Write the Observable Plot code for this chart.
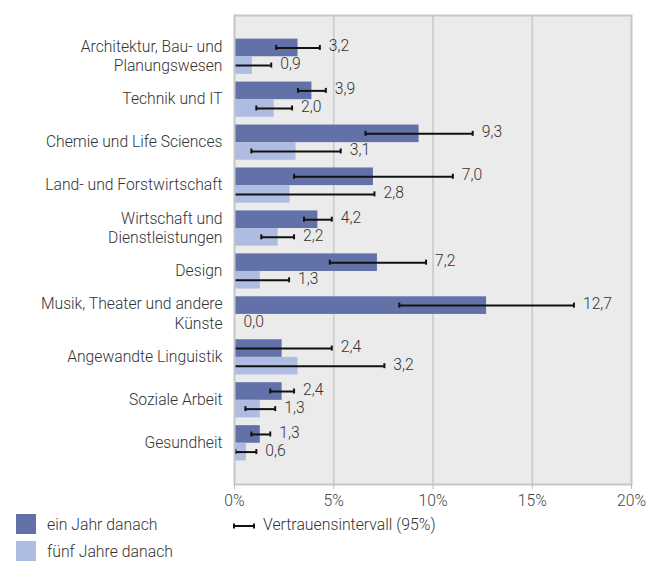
<!DOCTYPE html>
<html>
<head>
<meta charset="utf-8">
<script src="https://cdn.jsdelivr.net/npm/d3@7"></script>
<script src="https://cdn.jsdelivr.net/npm/@observablehq/plot@0.6"></script>
<style>
  body { margin: 0; background: #fff; font-family: Roboto, "Noto Sans", sans-serif; font-weight: 300; }
  #wrap { width: 660px; position: relative; }
  .legend { position: relative; height: 51px; font-size: 15.8px; color: #333; }
  .item { position: absolute; display: flex; align-items: center; height: 20px; }
  .sw { width: 20px; height: 20px; margin-right: 11px; }
</style>
</head>
<body>
<div id="wrap"></div>
<script>
const categories = ["Architektur, Bau- und Planungswesen", "Technik und IT", "Chemie und Life Sciences", "Land- und Forstwirtschaft", "Wirtschaft und Dienstleistungen", "Design", "Musik, Theater und andere Künste", "Angewandte Linguistik", "Soziale Arbeit", "Gesundheit"];
const tickLabels = ["Architektur, Bau- und\nPlanungswesen", "Technik und IT", "Chemie und Life Sciences", "Land- und Forstwirtschaft", "Wirtschaft und\nDienstleistungen", "Design", "Musik, Theater und andere\nKünste", "Angewandte Linguistik", "Soziale Arbeit", "Gesundheit"];
const seriesNames = ["ein Jahr danach", "fünf Jahre danach"];
const einJahr   = [3.2, 3.9, 9.3, 7.0, 4.2, 7.2, 12.7, 2.4, 2.4, 1.3];
const einJahrLo = [2.1, 3.2, 6.6, 3.0, 3.5, 4.8, 8.3, 0, 1.8, 0.85];
const einJahrHi = [4.3, 4.6, 12.0, 11.0, 4.9, 9.65, 17.1, 4.9, 3.0, 1.8];
const fuenfJahre   = [0.9, 2.0, 3.1, 2.8, 2.2, 1.3, 0.0, 3.2, 1.3, 0.6];
const fuenfJahreLo = [0, 1.1, 0.85, 0, 1.35, 0, null, 0, 0.55, 0.05];
const fuenfJahreHi = [1.85, 2.9, 5.35, 7.05, 3.0, 2.75, null, 7.55, 2.05, 1.1];
const xTicks = [0, 5, 10, 15, 20];
const ciLabel = "Vertrauensintervall (95%)";

const colors = ["#6272a9", "#aebce2"];

const rows = categories.map((c, i) => ({
  cat: c, label: tickLabels[i],
  v1: einJahr[i], lo1: einJahrLo[i], hi1: einJahrHi[i],
  v2: fuenfJahre[i], lo2: fuenfJahreLo[i], hi2: fuenfJahreHi[i]
}));

const width = 660, height = 510;
const mt = 15, mb = 26, ml = 234, mr = 29;
const pi = 0.18, po = 0.55;
const step = (height - mt - mb) / (categories.length - pi + 2 * po);
const bw = step * (1 - pi);
const fmt = v => v.toFixed(1).replace(".", ",");
const capH = 2.5;
const tdy = -1.5;

const hasCI1 = rows.filter(d => d.hi1 != null);
const hasCI2 = rows.filter(d => d.hi2 != null);

const chart = Plot.plot({
  width, height,
  marginTop: mt, marginBottom: mb, marginLeft: ml, marginRight: mr,
  style: { fontFamily: "Roboto, 'Noto Sans', sans-serif", fontSize: "15.7px", fontWeight: 300, color: "#333", background: "#fff" },
  x: { domain: [0, 20], label: null },
  y: { domain: categories, paddingInner: pi, paddingOuter: po, round: false, axis: null },
  marks: [
    Plot.frame({ fill: "#ebebeb", stroke: null }),
    Plot.ruleX(xTicks.slice(1, -1), { stroke: "#cbcbcb", strokeWidth: 1.6 }),
    Plot.barX(rows, { x: "v1", y: "cat", fill: colors[0], insetBottom: bw / 2 }),
    Plot.barX(rows, { x: "v2", y: "cat", fill: colors[1], insetTop: bw / 2 }),
    // error bars
    Plot.ruleY(hasCI1, { y: "cat", x1: "lo1", x2: "hi1", dy: -bw / 4, stroke: "#111", strokeWidth: 2 }),
    Plot.ruleY(hasCI2, { y: "cat", x1: "lo2", x2: "hi2", dy: bw / 4, stroke: "#111", strokeWidth: 2 }),
    Plot.tickX(hasCI1.filter(d => d.lo1 > 0), { x: "lo1", y: "cat", stroke: "#111", strokeWidth: 2, insetTop: bw / 4 - capH, insetBottom: 3 * bw / 4 - capH }),
    Plot.tickX(hasCI1, { x: "hi1", y: "cat", stroke: "#111", strokeWidth: 2, insetTop: bw / 4 - capH, insetBottom: 3 * bw / 4 - capH }),
    Plot.tickX(hasCI2.filter(d => d.lo2 > 0), { x: "lo2", y: "cat", stroke: "#111", strokeWidth: 2, insetTop: 3 * bw / 4 - capH, insetBottom: bw / 4 - capH }),
    Plot.tickX(hasCI2, { x: "hi2", y: "cat", stroke: "#111", strokeWidth: 2, insetTop: 3 * bw / 4 - capH, insetBottom: bw / 4 - capH }),
    // value labels
    Plot.text(rows, { x: d => Math.max(d.v1, d.hi1 ?? d.v1), y: "cat", text: d => fmt(d.v1), dy: -bw / 4 + tdy, dx: 9, textAnchor: "start", fill: "#333" }),
    Plot.text(rows, { x: d => Math.max(d.v2, d.hi2 ?? d.v2), y: "cat", text: d => fmt(d.v2), dy: bw / 4 + tdy, dx: 9, textAnchor: "start", fill: "#333" }),
    // category labels
    Plot.text(rows, { y: "cat", text: "label", frameAnchor: "left", textAnchor: "end", dx: -12, dy: tdy, lineHeight: 1.24, fill: "#333" }),
    Plot.frame({ stroke: "#c6c6c6", strokeWidth: 2 }),
    Plot.axisX(xTicks, { tickFormat: d => d + "%", tickSize: 5, tickPadding: 5, stroke: "#bbb", color: "#444", fontSize: 15.7, label: null })
  ]
});

const wrap = document.getElementById("wrap");
wrap.appendChild(chart);

const legend = document.createElement("div");
legend.className = "legend";
legend.innerHTML = `
  <div class="item" style="left:16px;top:4px"><div class="sw" style="background:${colors[0]}"></div><span>${seriesNames[0]}</span></div>
  <div class="item" style="left:16px;top:31px"><div class="sw" style="background:${colors[1]}"></div><span>${seriesNames[1]}</span></div>
  <div class="item" style="left:233px;top:4px"><svg width="22" height="20" style="margin-right:8px"><line x1="1" x2="21" y1="12" y2="12" stroke="#111" stroke-width="2"/><line x1="1" x2="1" y1="9.5" y2="14.5" stroke="#111" stroke-width="2"/><line x1="21" x2="21" y1="9.5" y2="14.5" stroke="#111" stroke-width="2"/></svg><span>${ciLabel}</span></div>
`;
wrap.appendChild(legend);
</script>
</body>
</html>
